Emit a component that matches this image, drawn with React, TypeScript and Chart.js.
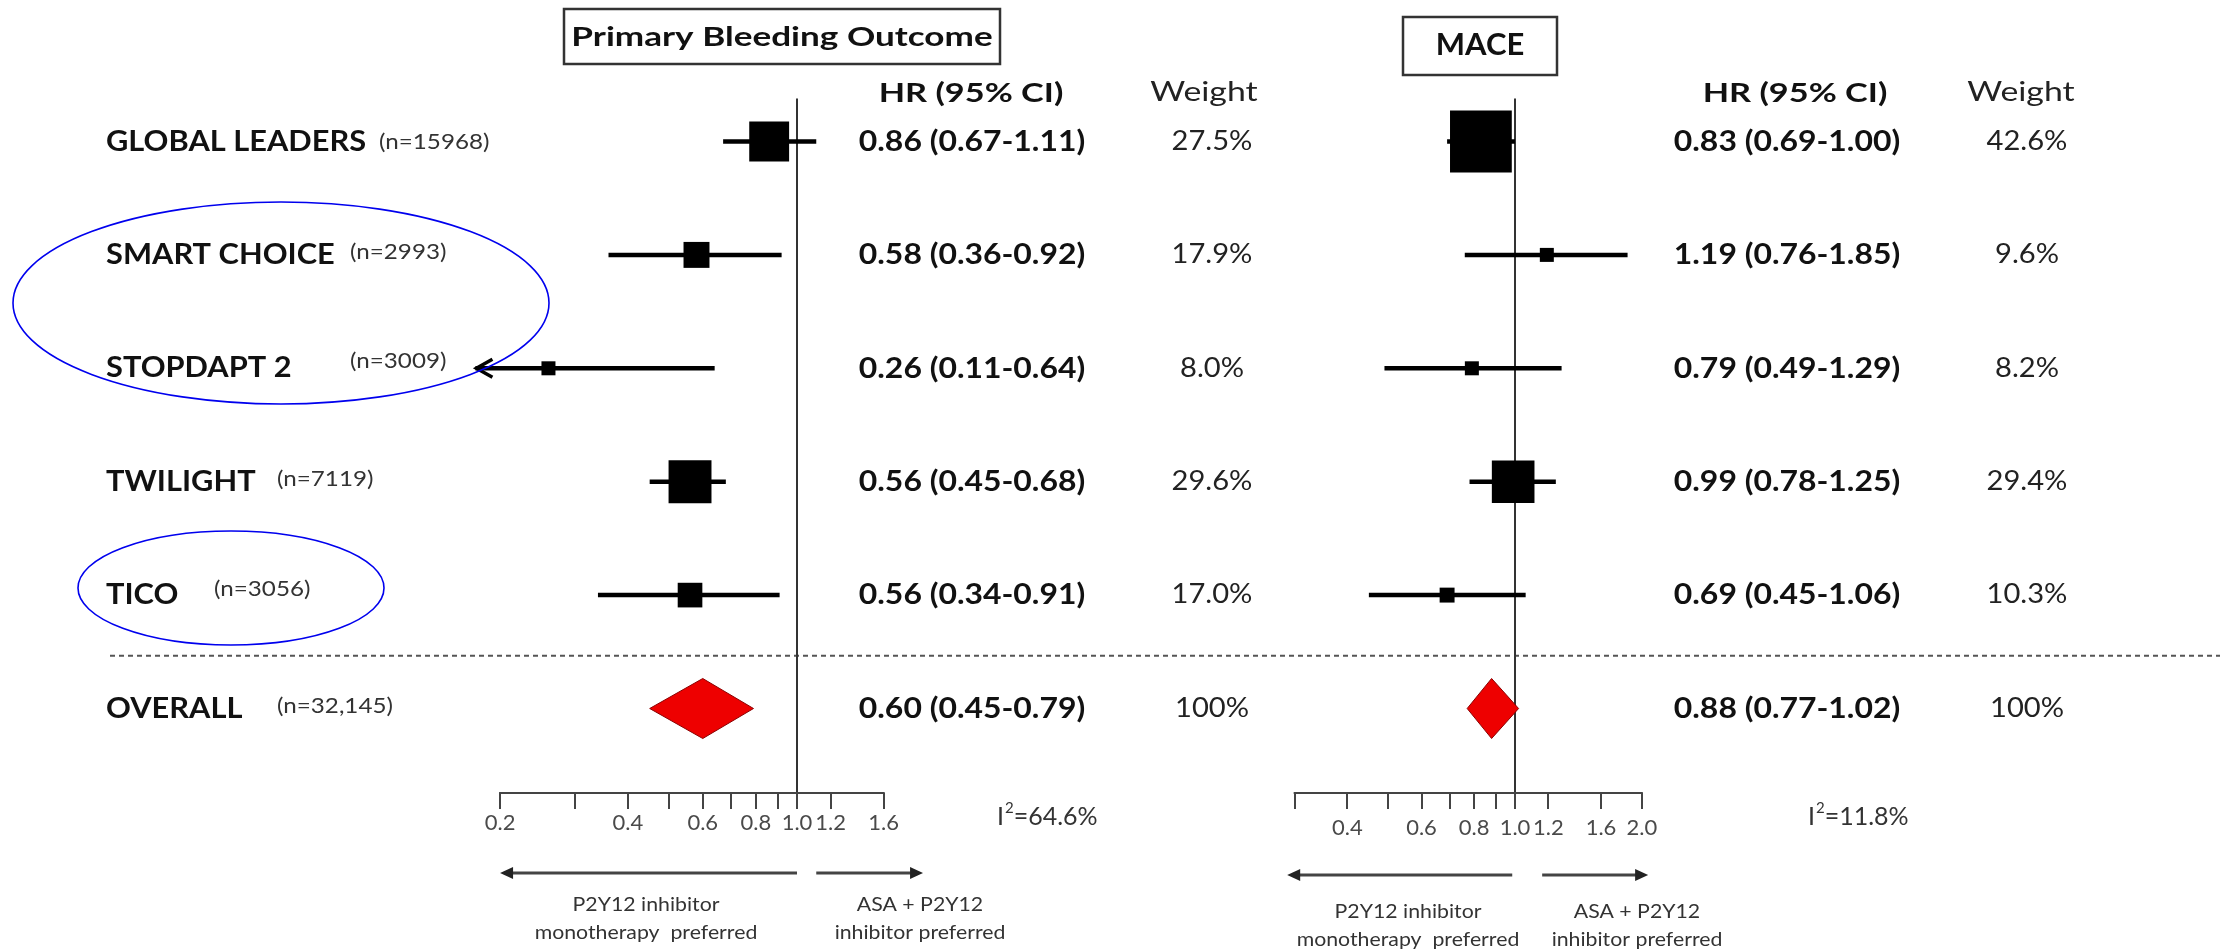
import React, { useEffect, useRef } from 'react';
import { Chart, registerables } from 'chart.js';

Chart.register(...registerables);

// ---------------- data ----------------
const studyNames = ['GLOBAL LEADERS', 'SMART CHOICE', 'STOPDAPT 2', 'TWILIGHT', 'TICO'];
const studySizes = ['(n=15968)', '(n=2993)', '(n=3009)', '(n=7119)', '(n=3056)'];
const overallName = 'OVERALL';
const overallSize = '(n=32,145)';

const bleedHR = [0.86, 0.58, 0.26, 0.56, 0.56];
const bleedLow = [0.67, 0.36, 0.11, 0.45, 0.34];
const bleedHigh = [1.11, 0.92, 0.64, 0.68, 0.91];
const bleedWeight = [27.5, 17.9, 8.0, 29.6, 17.0];
const bleedOverall = [0.6, 0.45, 0.79]; // HR, low, high
const bleedI2 = '64.6%';
const bleedTicks = [0.2, 0.3, 0.4, 0.5, 0.6, 0.7, 0.8, 0.9, 1.0, 1.2, 1.6];
const bleedTickLabels = [0.2, 0.4, 0.6, 0.8, 1.0, 1.2, 1.6];

const maceHR = [0.83, 1.19, 0.79, 0.99, 0.69];
const maceLow = [0.69, 0.76, 0.49, 0.78, 0.45];
const maceHigh = [1.0, 1.85, 1.29, 1.25, 1.06];
const maceWeight = [42.6, 9.6, 8.2, 29.4, 10.3];
const maceOverall = [0.88, 0.77, 1.02];
const maceI2 = '11.8%';
const maceTicks = [0.3, 0.4, 0.5, 0.6, 0.7, 0.8, 0.9, 1.0, 1.2, 1.6, 2.0];
const maceTickLabels = [0.4, 0.6, 0.8, 1.0, 1.2, 1.6, 2.0];

// ---------------- layout / style ----------------
const W = 2220;
const H = 949;
const ROW0_PX = 141.5;
const ROW_STEP_PX = 113.4;
const Y_MIN = -ROW0_PX / ROW_STEP_PX;
const Y_MAX = (H - ROW0_PX) / ROW_STEP_PX;
const AXIS_ROW = (793 - ROW0_PX) / ROW_STEP_PX;
const FONT = 'Lato, "Open Sans", sans-serif';

type TS = { weight: string; size: number; color: string; stretch: number };
const sName: TS = { weight: 'bold', size: 28, color: '#111', stretch: 1.1 };
const sN: TS = { weight: 'normal', size: 22, color: '#333', stretch: 1.1 };
const sHR: TS = { weight: 'bold', size: 29, color: '#111', stretch: 1.1 };
const sHRHead: TS = { weight: 'bold', size: 27, color: '#111', stretch: 1.27 };
const sWHead: TS = { weight: 'normal', size: 26, color: '#222', stretch: 1.3 };
const sW: TS = { weight: 'normal', size: 26, color: '#222', stretch: 1.12 };
const sTitle: TS = { weight: 'bold', size: 27, color: '#111', stretch: 1.3 };
const sMace: TS = { weight: 'bold', size: 31, color: '#111', stretch: 1.0 };
const sI2: TS = { weight: 'normal', size: 25, color: '#333', stretch: 1.0 };
const sFoot: TS = { weight: 'normal', size: 19, color: '#333', stretch: 1.12 };

const nLabelX = [379, 350, 350, 277, 214, 277];
const nLabelDy = [0, -3, -7, -3, -6, -3];

const panels = [
  {
    id: 'x1', one: 797, perLn: 184.5, hr: bleedHR, lo: bleedLow, hi: bleedHigh, w: bleedWeight,
    overall: bleedOverall, ticks: bleedTicks, labels: bleedTickLabels, tickPad: 1, clipLow: 0.175,
    title: 'Primary Bleeding Outcome', titleStyle: sTitle, box: [564, 9, 436, 55], titleY: 37,
    hrX: 972, hrHeadX: 971, wX: 1212, wHeadX: 1204, i2: bleedI2, i2X: 997, i2Y: 817,
    arrowY: 873, arrowL: [1.0, 0.2], arrowR: [1.11, 1.98],
    footL: 646, footR: 920, footY: [905, 933],
  },
  {
    id: 'x2', one: 1515, perLn: 183, hr: maceHR, lo: maceLow, hi: maceHigh, w: maceWeight,
    overall: maceOverall, ticks: maceTicks, labels: maceTickLabels, tickPad: 6, clipLow: 0.01,
    title: 'MACE', titleStyle: sMace, box: [1403, 17, 154, 58], titleY: 45,
    hrX: 1787, hrHeadX: 1795, wX: 2027, wHeadX: 2021, i2: maceI2, i2X: 1808, i2Y: 817,
    arrowY: 875, arrowL: [0.985, 0.288], arrowR: [1.16, 2.07],
    footL: 1408, footR: 1637, footY: [912, 940],
  },
];

const ellipses = [
  { cx: 281, cy: 303, rx: 268, ry: 101 },
  { cx: 231, cy: 588, rx: 153, ry: 57 },
];

const boxRadius = (w: number) => Math.max(14, 1.45 * w) / (2 * Math.SQRT1_2);
const f2 = (v: number) => v.toFixed(2);

function txt(ctx: CanvasRenderingContext2D, s: string, x: number, y: number, st: TS, align = 'left') {
  ctx.save();
  ctx.font = `${st.weight} ${st.size}px ${FONT}`;
  ctx.fillStyle = st.color;
  ctx.textBaseline = 'middle';
  ctx.textAlign = 'left';
  const w = ctx.measureText(s).width * st.stretch;
  const left = align === 'center' ? x - w / 2 : align === 'right' ? x - w : x;
  ctx.translate(left, y);
  ctx.scale(st.stretch, 1);
  ctx.fillText(s, 0, 0);
  ctx.restore();
  return w;
}

function line(ctx: CanvasRenderingContext2D, x1: number, y1: number, x2: number, y2: number, color: string, lw: number) {
  ctx.save();
  ctx.strokeStyle = color;
  ctx.lineWidth = lw;
  ctx.beginPath();
  ctx.moveTo(x1, y1);
  ctx.lineTo(x2, y2);
  ctx.stroke();
  ctx.restore();
}

function arrow(ctx: CanvasRenderingContext2D, x1: number, x2: number, y: number) {
  const dir = x2 > x1 ? 1 : -1;
  line(ctx, x1, y, x2 - dir * 8, y, '#444', 3);
  ctx.save();
  ctx.fillStyle = '#222';
  ctx.beginPath();
  ctx.moveTo(x2, y);
  ctx.lineTo(x2 - dir * 13, y - 6);
  ctx.lineTo(x2 - dir * 13, y + 6);
  ctx.closePath();
  ctx.fill();
  ctx.restore();
}

const forestPlugin = {
  id: 'forest',
  beforeDatasetsDraw(chart: any) {
    const ctx: CanvasRenderingContext2D = chart.ctx;
    const ys = chart.scales.y;
    const rowY = (i: number) => ys.getPixelForValue(i);
    const axisY = ys.getPixelForValue(AXIS_ROW);

    // dotted separator
    ctx.save();
    ctx.strokeStyle = '#555';
    ctx.lineWidth = 2;
    ctx.setLineDash([5, 4]);
    ctx.beginPath();
    const sepY = (rowY(4) + rowY(5)) / 2 + 4;
    ctx.moveTo(110, sepY);
    ctx.lineTo(W, sepY);
    ctx.stroke();
    ctx.restore();

    // row labels
    studyNames.concat([overallName]).forEach((name, i) => {
      txt(ctx, name, 106, rowY(i), sName);
      txt(ctx, studySizes.concat([overallSize])[i], nLabelX[i], rowY(i) + nLabelDy[i], sN);
    });

    panels.forEach((p) => {
      const xs = chart.scales[p.id];
      const X = (v: number) => xs.getPixelForValue(v);

      // title box
      ctx.save();
      ctx.strokeStyle = '#333';
      ctx.lineWidth = 2.5;
      ctx.strokeRect(p.box[0], p.box[1], p.box[2], p.box[3]);
      ctx.restore();
      txt(ctx, p.title, p.box[0] + p.box[2] / 2, p.titleY, p.titleStyle, 'center');

      // headers
      txt(ctx, 'HR (95% CI)', p.hrHeadX, 93, sHRHead, 'center');
      txt(ctx, 'Weight', p.wHeadX, 93, sWHead, 'center');

      // reference line at 1
      line(ctx, X(1), rowY(0) - 43, X(1), axisY, '#333', 2);

      // axis line
      line(ctx, X(p.ticks[0]) - 1, axisY, X(p.ticks[p.ticks.length - 1]) + 1, axisY, '#444', 2);

      // CI lines
      p.hr.forEach((hr, i) => {
        const y = rowY(i);
        const clipped = p.lo[i] < p.clipLow;
        const lo = clipped ? p.clipLow : p.lo[i];
        line(ctx, X(lo), y, X(p.hi[i]), y, '#000', 4.5);
        if (clipped) {
          ctx.save();
          ctx.strokeStyle = '#000';
          ctx.lineWidth = 3.5;
          ctx.beginPath();
          ctx.moveTo(X(lo) + 17, y - 9);
          ctx.lineTo(X(lo) + 1, y);
          ctx.lineTo(X(lo) + 17, y + 9);
          ctx.stroke();
          ctx.restore();
        }
        txt(ctx, `${f2(hr)} (${f2(p.lo[i])}-${f2(p.hi[i])})`, p.hrX, y, sHR, 'center');
        txt(ctx, `${p.w[i].toFixed(1)}%`, p.wX, y, sW, 'center');
      });
      const [ohr, olo, ohi] = p.overall;
      txt(ctx, `${f2(ohr)} (${f2(olo)}-${f2(ohi)})`, p.hrX, rowY(5), sHR, 'center');
      txt(ctx, '100%', p.wX, rowY(5), sW, 'center');

      // I squared
      const iw = txt(ctx, 'I', p.i2X, p.i2Y, sI2);
      const sup = txt(ctx, '2', p.i2X + iw + 1, p.i2Y - 9, { ...sI2, size: 15 });
      txt(ctx, '=' + p.i2, p.i2X + iw + sup + 1, p.i2Y, sI2);

      // direction arrows
      arrow(ctx, X(p.arrowL[0]), X(p.arrowL[1]), p.arrowY);
      arrow(ctx, X(p.arrowR[0]), X(p.arrowR[1]), p.arrowY);
      txt(ctx, 'P2Y12 inhibitor', p.footL, p.footY[0], sFoot, 'center');
      txt(ctx, 'monotherapy  preferred', p.footL, p.footY[1], sFoot, 'center');
      txt(ctx, 'ASA + P2Y12', p.footR, p.footY[0], sFoot, 'center');
      txt(ctx, 'inhibitor preferred', p.footR, p.footY[1], sFoot, 'center');
    });
  },
  afterDatasetsDraw(chart: any) {
    const ctx: CanvasRenderingContext2D = chart.ctx;
    const ys = chart.scales.y;
    panels.forEach((p) => {
      const xs = chart.scales[p.id];
      const [hr, lo, hi] = p.overall;
      const y = ys.getPixelForValue(5);
      ctx.save();
      ctx.fillStyle = '#ee0000';
      ctx.strokeStyle = '#8a0000';
      ctx.lineWidth = 1;
      ctx.beginPath();
      ctx.moveTo(xs.getPixelForValue(lo), y);
      ctx.lineTo(xs.getPixelForValue(hr), y - 30);
      ctx.lineTo(xs.getPixelForValue(hi), y);
      ctx.lineTo(xs.getPixelForValue(hr), y + 30);
      ctx.closePath();
      ctx.fill();
      ctx.stroke();
      ctx.restore();
    });
    ctx.save();
    ctx.strokeStyle = '#0000ee';
    ctx.lineWidth = 1.6;
    ellipses.forEach((e) => {
      ctx.beginPath();
      ctx.ellipse(e.cx, e.cy, e.rx, e.ry, 0, 0, Math.PI * 2);
      ctx.stroke();
    });
    ctx.restore();
  },
};

function axisOptions(p: any) {
  return {
    type: 'logarithmic',
    axis: 'x',
    position: { y: AXIS_ROW },
    min: Math.exp(-p.one / p.perLn),
    max: Math.exp((W - p.one) / p.perLn),
    bounds: 'data',
    afterBuildTicks: (scale: any) => {
      scale.ticks = p.ticks.map((v: number) => ({ value: v }));
    },
    ticks: {
      autoSkip: false,
      maxRotation: 0,
      minRotation: 0,
      padding: p.tickPad,
      color: '#4a4a4a',
      font: { family: FONT, size: 22 },
      callback: (v: any) => (p.labels.some((l: number) => Math.abs(l - Number(v)) < 1e-6) ? Number(v).toFixed(1) : ''),
    },
    grid: { display: true, drawOnChartArea: false, drawTicks: true, tickLength: 16, color: '#444', lineWidth: 2 },
    border: { display: false },
  };
}

export default function App() {
  const ref = useRef<HTMLCanvasElement>(null);
  useEffect(() => {
    if (!ref.current) return;
    const chart = new Chart(ref.current, {
      type: 'scatter',
      data: {
        datasets: [
          {
            label: 'Primary Bleeding Outcome',
            data: bleedHR.map((v, i) => ({ x: v, y: i })),
            xAxisID: 'x1',
            yAxisID: 'y',
            pointStyle: 'rect',
            pointRadius: bleedWeight.map(boxRadius),
            pointHoverRadius: bleedWeight.map(boxRadius),
            backgroundColor: '#000',
            borderWidth: 0,
          },
          {
            label: 'MACE',
            data: maceHR.map((v, i) => ({ x: v, y: i })),
            xAxisID: 'x2',
            yAxisID: 'y',
            pointStyle: 'rect',
            pointRadius: maceWeight.map(boxRadius),
            pointHoverRadius: maceWeight.map(boxRadius),
            backgroundColor: '#000',
            borderWidth: 0,
          },
        ],
      } as any,
      options: {
        responsive: false,
        animation: false,
        devicePixelRatio: 1,
        events: [],
        layout: { padding: 0, autoPadding: false },
        plugins: { legend: { display: false }, tooltip: { enabled: false }, title: { display: false } },
        scales: {
          x1: axisOptions(panels[0]),
          x2: axisOptions(panels[1]),
          y: { type: 'linear', display: false, min: Y_MIN, max: Y_MAX, reverse: true, bounds: 'data' },
        } as any,
      } as any,
      plugins: [forestPlugin],
    });
    return () => chart.destroy();
  }, []);
  return (
    <div style={{ position: 'absolute', left: 0, top: 0, width: W, height: H, background: '#fff' }}>
      <canvas ref={ref} width={W} height={H} style={{ display: 'block', width: W, height: H }} />
    </div>
  );
}
